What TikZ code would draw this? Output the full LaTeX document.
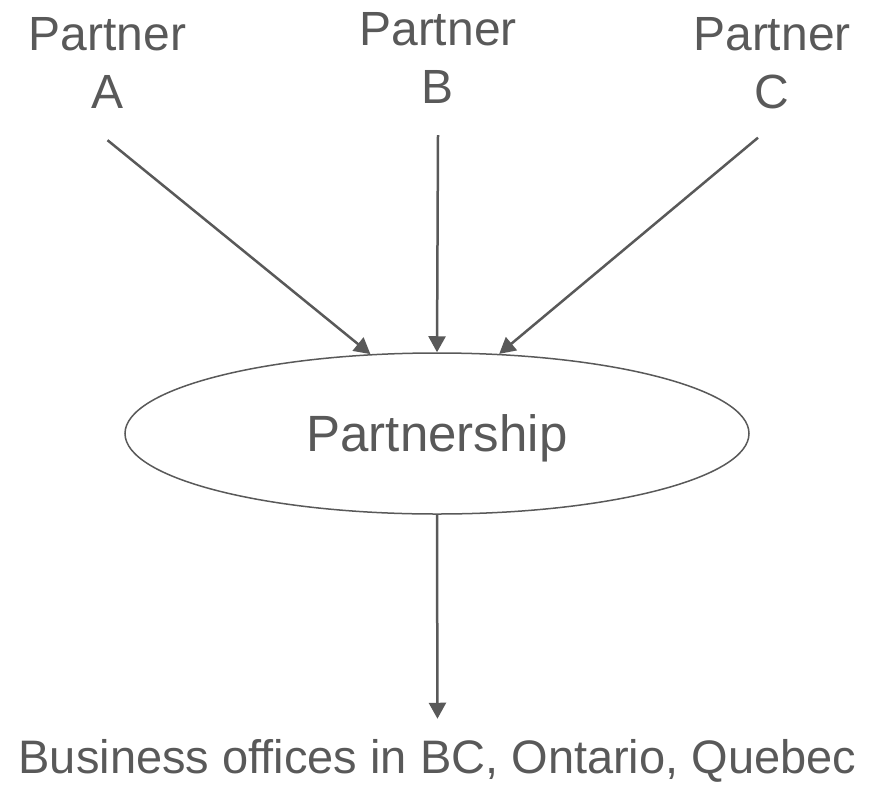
\documentclass[tikz,border=0pt]{standalone}
\usepackage{fontspec}
\setmainfont{Liberation Sans}
\usetikzlibrary{shapes.geometric,arrows.meta}
\definecolor{ink}{HTML}{595959}
\tikzset{
  label text/.style={text=ink, inner sep=0pt, align=center, anchor=base,
                     font=\fontsize{48}{58}\selectfont},
  flow/.style={draw=ink, line width=2.5pt,
               -{Triangle[length=16pt,width=17pt]}},
  hub/.style={ellipse, draw=ink, line width=1.5pt, inner sep=0pt,
              minimum width=624pt, minimum height=161pt, text=ink,
              text depth=0pt, font=\fontsize{51}{60}\selectfont},
}
\begin{document}
\begin{tikzpicture}[x=1pt,y=-1pt]
  \useasboundingbox (0,0) rectangle (874,784);

  % partners (anchored at the baseline of their second line)
  \node[label text] (pa) at (107.5,108) {Partner\\A};
  \node[label text] (pb) at (438,103) {Partner\\B};
  \node[label text] (pc) at (772,108) {Partner\\C};

  % the partnership
  \node[hub] (part) at (437,433.5) {Partnership};

  % offices
  \node[label text, font=\fontsize{47}{56}\selectfont] (biz) at (437.5,773)
    {Business offices in BC, Ontario, Quebec};

  % connectors
  \draw[flow] ([yshift=-32pt]pa.south) -- (part.130.5);
  \draw[flow] ([yshift=-32pt]pb.south) -- (part.north);
  \draw[flow] ([shift={(-14pt,-29pt)}]pc.south) -- (part.52);
  \draw[flow, shorten >=20pt] (part.south) -- (biz.north);
\end{tikzpicture}
\end{document}
